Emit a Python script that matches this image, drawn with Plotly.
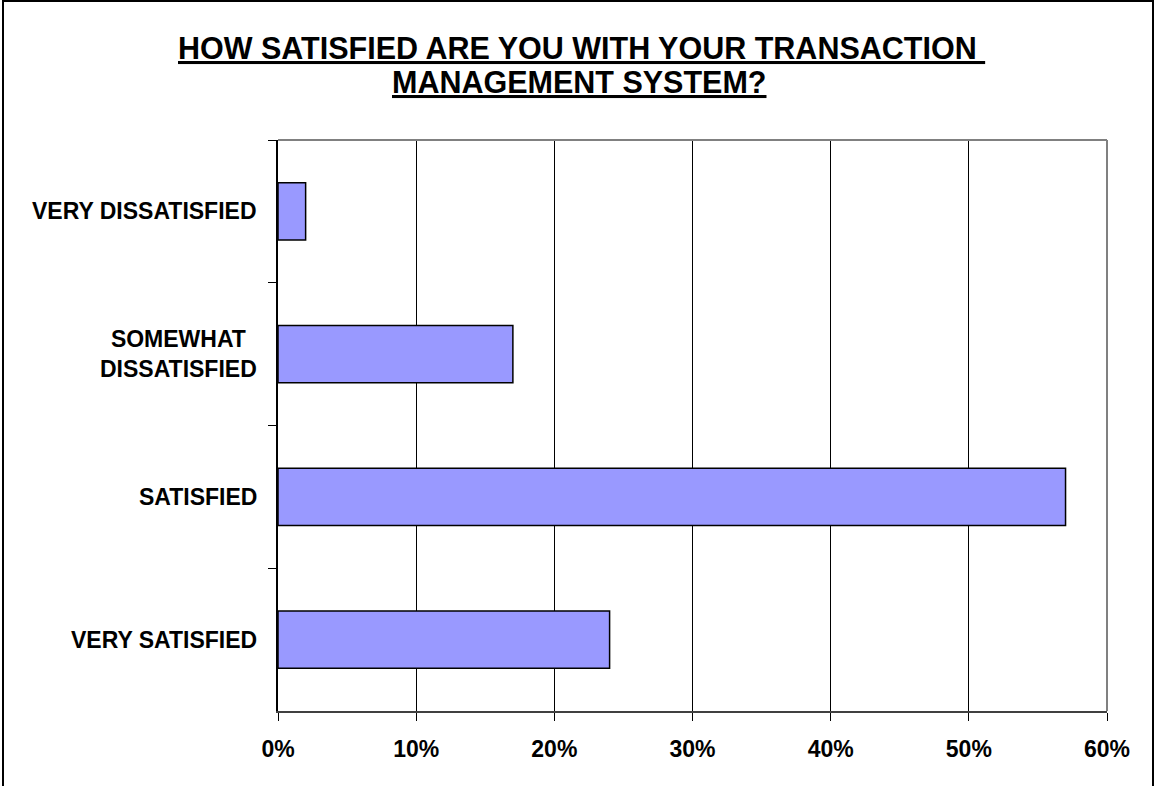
import plotly.graph_objects as go

# Survey responses (share of respondents, %)
categories = ["VERY DISSATISFIED", "SOMEWHAT<br>DISSATISFIED", "SATISFIED", "VERY SATISFIED"]
shares = [2, 17, 57, 24]
x_ticks = [0, 10, 20, 30, 40, 50, 60]
x_tick_labels = ["0%", "10%", "20%", "30%", "40%", "50%", "60%"]
title_lines = ["HOW SATISFIED ARE YOU WITH YOUR TRANSACTION\u00a0", "MANAGEMENT SYSTEM?"]

W, H = 1155, 786
L, R, T, B = 278, 48, 140, 75
pw, ph = W - L - R, H - T - B

FONT = "Arial, Liberation Sans, sans-serif"


def px_x(x):
    return (x - L) / pw


def px_y(y):
    return (H - B - y) / ph


fig = go.Figure(
    go.Bar(
        y=categories,
        x=shares,
        orientation="h",
        marker=dict(color="#9999FF", line=dict(color="#000000", width=1.5)),
        hoverinfo="skip",
    )
)

fig.update_layout(
    width=W,
    height=H,
    margin=dict(l=L, r=R, t=T, b=B, pad=0),
    paper_bgcolor="white",
    plot_bgcolor="white",
    bargap=0.6,
    showlegend=False,
    font=dict(family=FONT, color="black"),
)

fig.update_xaxes(
    range=[0, 60],
    tickvals=x_ticks,
    ticktext=["<b>" + t + "</b>" for t in x_tick_labels],
    tickfont=dict(family=FONT, size=23, color="black"),
    showgrid=True,
    gridcolor="#000000",
    gridwidth=1,
    zeroline=False,
    showline=True,
    linecolor="#404040",
    linewidth=2,
    ticks="outside",
    ticklen=8,
    tickwidth=1,
    tickcolor="#000000",
    ticklabelstandoff=8,
    fixedrange=True,
)

fig.update_yaxes(
    autorange="reversed",
    showticklabels=False,
    showgrid=False,
    zeroline=False,
    showline=True,
    linecolor="#000000",
    linewidth=1.5,
    ticks="outside",
    tickson="boundaries",
    ticklen=8,
    tickwidth=1,
    tickcolor="#000000",
    fixedrange=True,
)

# Two-line underlined title with tight line spacing
for line, (cx, cy) in zip(title_lines, [(581, 48), (579, 82)]):
    fig.add_annotation(
        x=px_x(cx),
        xref="paper",
        y=px_y(cy),
        yref="paper",
        text="<b>" + line + "</b>",
        showarrow=False,
        xanchor="center",
        yanchor="middle",
        font=dict(family=FONT, size=30.5, color="black", lineposition="under"),
    )

# Category labels, centred line by line and right-aligned against the axis
for cat in categories:
    fig.add_annotation(
        x=px_x(259),
        xref="paper",
        y=cat,
        yref="y",
        text="<b>" + cat + "</b>",
        showarrow=False,
        xanchor="right",
        yanchor="middle",
        align="center",
        font=dict(family=FONT, size=23, color="black"),
    )

# Grey plot-area frame on top and right
fig.add_shape(type="line", xref="paper", yref="paper", x0=0, x1=1, y0=1, y1=1,
              line=dict(color="#808080", width=2), layer="above")
fig.add_shape(type="line", xref="paper", yref="paper", x0=1, x1=1, y0=0, y1=1,
              line=dict(color="#808080", width=2), layer="above")

# Outer chart border
fig.add_shape(
    type="rect",
    xref="paper",
    yref="paper",
    x0=px_x(3),
    x1=px_x(1153),
    y0=px_y(800),
    y1=px_y(1),
    line=dict(color="#000000", width=2),
    fillcolor="rgba(0,0,0,0)",
    layer="above",
)

fig.write_html("out.html")
